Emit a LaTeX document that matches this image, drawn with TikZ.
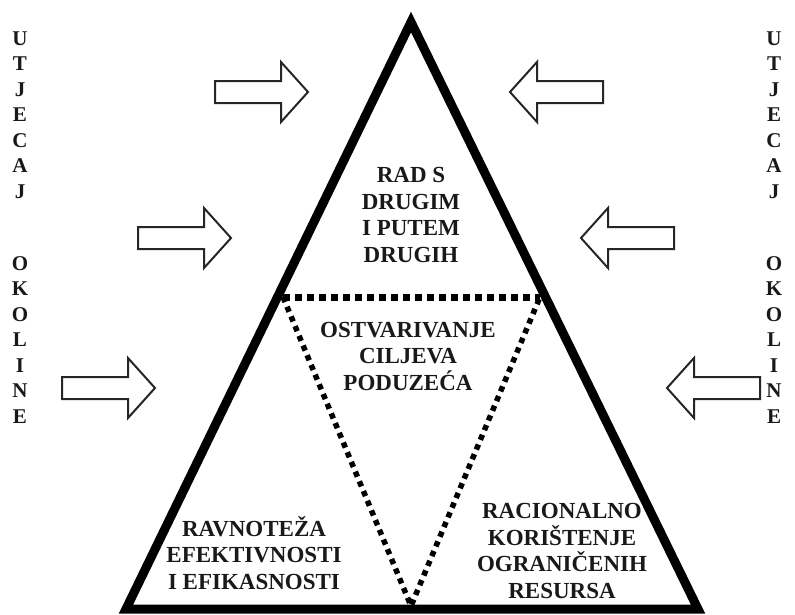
\documentclass[tikz,border=0pt]{standalone}
\usepackage{fontspec}
\setmainfont{Liberation Serif}

\tikzset{
  influx/.pic={
    \draw [blockarrow] (0,-11) -- (66,-11) -- (66,-30) -- (93,0)
      -- (66,30) -- (66,11) -- (0,11) -- cycle;
  }
}

\begin{document}
\begin{tikzpicture}[x=1pt,y=-1pt,
  blockarrow/.style={draw=black!85,line width=2pt,fill=white,line join=miter},
  blocktext/.style={font=\fontsize{23}{26.5}\selectfont\bfseries,align=center,text=black!90},
  sideword/.style={font=\fontsize{21}{25.5}\selectfont\bfseries,align=center,text=black!90}]
  \useasboundingbox (0,0) rectangle (795,614);

  % Draw the big triangle
  \draw [line width=9pt,line join=miter] (411,22) coordinate (apex)
    -- (698,609) coordinate (baseR) -- (126,609) coordinate (baseL) -- cycle;

  % Draw the dotted inner triangle
  \coordinate (dotL) at (283,297);
  \coordinate (dotR) at (540,297);
  \coordinate (dotV) at (411,606);
  \draw [line width=7pt,dash pattern=on 7pt off 5pt] (dotL) -- (dotR);
  \draw [line width=5.5pt,dash pattern=on 5.5pt off 5pt] (dotL) -- (dotV) -- (dotR);

  % Texts in the four fields
  \node [blocktext] (radS) at (411,215) {RAD S\\DRUGIM\\I PUTEM\\DRUGIH};
  \node [blocktext] (ciljevi) at (408,356) {OSTVARIVANJE\\CILJEVA\\PODUZEĆA};
  \node [blocktext] (ravnoteza) at (254,553) {RAVNOTEŽA\\EFEKTIVNOSTI\\I EFIKASNOSTI};
  \node [blocktext] (resursi) at (562,551) {RACIONALNO\\KORIŠTENJE\\OGRANIČENIH\\RESURSA};

  % Arrows of the environment
  \foreach \ax/\ay [count=\i] in {215/92, 138/238, 62/388}
    \pic (inL\i) at (\ax,\ay) {influx};
  \foreach \ax/\ay [count=\i] in {603/92, 674/238, 760/388}
    \pic [xscale=-1] (inR\i) at (\ax,\ay) {influx};

  % Vertical words on both sides
  \foreach \sx/\sn in {20/L, 774/R} {
    \node [sideword] (utjecaj\sn) at (\sx,115) {U\\T\\J\\E\\C\\A\\J};
    \node [sideword] (okoline\sn) at (\sx,340) {O\\K\\O\\L\\I\\N\\E};
  }
\end{tikzpicture}
\end{document}
